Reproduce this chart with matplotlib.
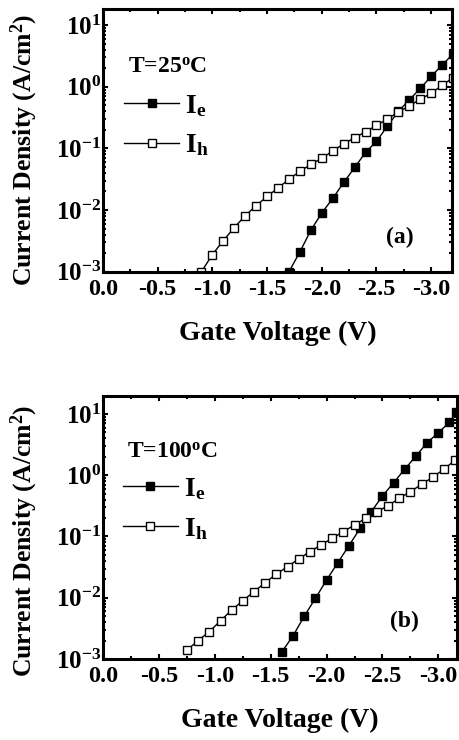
import matplotlib
matplotlib.use('Agg')
import math
import matplotlib.pyplot as plt
from matplotlib.ticker import MultipleLocator, FuncFormatter, LogLocator, NullFormatter

plt.rcParams['font.family'] = ['Liberation Serif', 'DejaVu Serif']
plt.rcParams['font.weight'] = 'bold'
plt.rcParams['mathtext.fontset'] = 'custom'
plt.rcParams['mathtext.rm'] = 'Liberation Serif:bold'
plt.rcParams['mathtext.bf'] = 'Liberation Serif:bold'
plt.rcParams['mathtext.it'] = 'Liberation Serif:bold'
plt.rcParams['axes.unicode_minus'] = False

# panel (a), T = 25 C
va_e = [-1.7, -1.8, -1.9, -2.0, -2.1, -2.2, -2.3, -2.4, -2.5, -2.6, -2.7,
        -2.8, -2.9, -3.0, -3.1, -3.2]
ja_e = [1.0e-3, 2.1e-3, 4.7e-3, 9.0e-3, 0.0154, 0.028, 0.049, 0.086, 0.13,
        0.23, 0.40, 0.61, 0.94, 1.47, 2.25, 3.4]
va_h = [-0.9, -1.0, -1.1, -1.2, -1.3, -1.4, -1.5, -1.6, -1.7, -1.8, -1.9,
        -2.0, -2.1, -2.2, -2.3, -2.4, -2.5, -2.6, -2.7, -2.8, -2.9, -3.0,
        -3.1, -3.2]
ja_h = [1.0e-3, 1.9e-3, 3.2e-3, 5.2e-3, 8.1e-3, 0.0118, 0.0166, 0.0228,
        0.0315, 0.0425, 0.055, 0.069, 0.091, 0.118, 0.149, 0.186, 0.236,
        0.30, 0.39, 0.49, 0.63, 0.78, 1.06, 1.4]

# panel (b), T = 100 C
vb_e = [-1.6, -1.7, -1.8, -1.9, -2.0, -2.1, -2.2, -2.3, -2.4, -2.5, -2.6,
        -2.7, -2.8, -2.9, -3.0, -3.1, -3.16]
jb_e = [1.31e-3, 2.4e-3, 5.0e-3, 9.8e-3, 0.0195, 0.0373, 0.0708, 0.136,
        0.254, 0.458, 0.755, 1.26, 2.06, 3.4, 4.95, 7.3, 10.7]
vb_h = [-0.75, -0.85, -0.95, -1.05, -1.15, -1.25, -1.35, -1.45, -1.55,
        -1.65, -1.75, -1.85, -1.95, -2.05, -2.15, -2.25, -2.35, -2.45,
        -2.55, -2.65, -2.75, -2.85, -2.95, -3.05, -3.15]
jb_h = [1.40e-3, 2.0e-3, 2.8e-3, 4.2e-3, 6.3e-3, 8.95e-3, 0.0126, 0.0176,
        0.0244, 0.0321, 0.043, 0.0565, 0.0726, 0.0935, 0.12, 0.154, 0.198,
        0.254, 0.318, 0.42, 0.54, 0.71, 0.93, 1.25, 1.77]

xticks = [0.0, -0.5, -1.0, -1.5, -2.0, -2.5, -3.0]


def xfmt(v, pos):
    s = '%.1f' % v
    if s == '-0.0':
        s = '0.0'
    return s


def yfmt(v, pos):
    return r'$\mathbf{10^{%d}}$' % round(math.log10(v))


def panel(ax, ve, je, vh, jh, temp, tag, xright, ytop, tpos, lpos, tagpos, ylab):
    ax.plot(ve, je, '-s', color='black', lw=1.0, ms=6.2, mfc='black',
            mec='black', mew=1.0, label=r'$\mathbf{I_e}$')
    ax.plot(vh, jh, '-s', color='black', lw=1.0, ms=6.2, mfc='white',
            mec='black', mew=1.0, label=r'$\mathbf{I_h}$')
    ax.set_yscale('log')
    ax.set_xlim(0, xright)
    ax.set_ylim(1e-3, ytop)
    ax.set_xticks(xticks)
    ax.xaxis.set_major_formatter(FuncFormatter(xfmt))
    ax.xaxis.set_minor_locator(MultipleLocator(0.25))
    ax.yaxis.set_major_locator(LogLocator(base=10, numticks=10))
    ax.yaxis.set_minor_locator(LogLocator(base=10, subs=range(2, 10), numticks=10))
    ax.yaxis.set_major_formatter(FuncFormatter(yfmt))
    ax.yaxis.set_minor_formatter(NullFormatter())
    for s in ax.spines.values():
        s.set_linewidth(2.2)
    ax.tick_params(which='both', direction='in', top=True, right=True, width=1.5)
    ax.tick_params(which='major', length=3.5)
    ax.tick_params(which='minor', length=2.5)
    ax.tick_params(axis='x', labelsize=17.5, pad=5)
    ax.tick_params(axis='y', labelsize=18, pad=1.5)
    ax.set_xlabel('Gate Voltage (V)', fontsize=20, fontweight='bold', labelpad=15)
    ax.set_ylabel(r'Current Density (A/cm$^{2}$)', fontsize=18.5,
                  fontweight='bold')
    ax.yaxis.set_label_coords(ylab[0], ylab[1])
    ax.text(tpos[0], tpos[1], temp, transform=ax.transAxes, fontsize=17,
            fontweight='bold', ha='left', va='center')
    ax.text(tagpos[0], tagpos[1], tag, transform=ax.transAxes, fontsize=17,
            fontweight='bold', ha='center', va='center')
    ax.legend(loc='upper left', bbox_to_anchor=lpos, frameon=False,
              fontsize=20, handlelength=2.0, handletextpad=0.2,
              labelspacing=0.5, borderaxespad=0, borderpad=0)


fig = plt.figure(figsize=(4.59, 7.40), dpi=100, facecolor='white')
ax1 = fig.add_axes([0.2244, 0.6328, 0.7603, 0.3554])
ax2 = fig.add_axes([0.2250, 0.1095, 0.7700, 0.3554])

panel(ax1, va_e, ja_e, va_h, ja_h, r'T=25$^{\mathrm{o}}$C', '(a)',
      xright=-3.19, ytop=18.4, tpos=(0.072, 0.778), lpos=(0.06, 0.68),
      tagpos=(0.851, 0.132), ylab=(-0.18, 0.465))
panel(ax2, vb_e, jb_e, vb_h, jb_h, r'T=100$^{\mathrm{o}}$C', '(b)',
      xright=-3.165, ytop=19.7, tpos=(0.067, 0.788), lpos=(0.055, 0.695),
      tagpos=(0.853, 0.142), ylab=(-0.179, 0.45))

fig.savefig('out.png', dpi=100, facecolor='white')
